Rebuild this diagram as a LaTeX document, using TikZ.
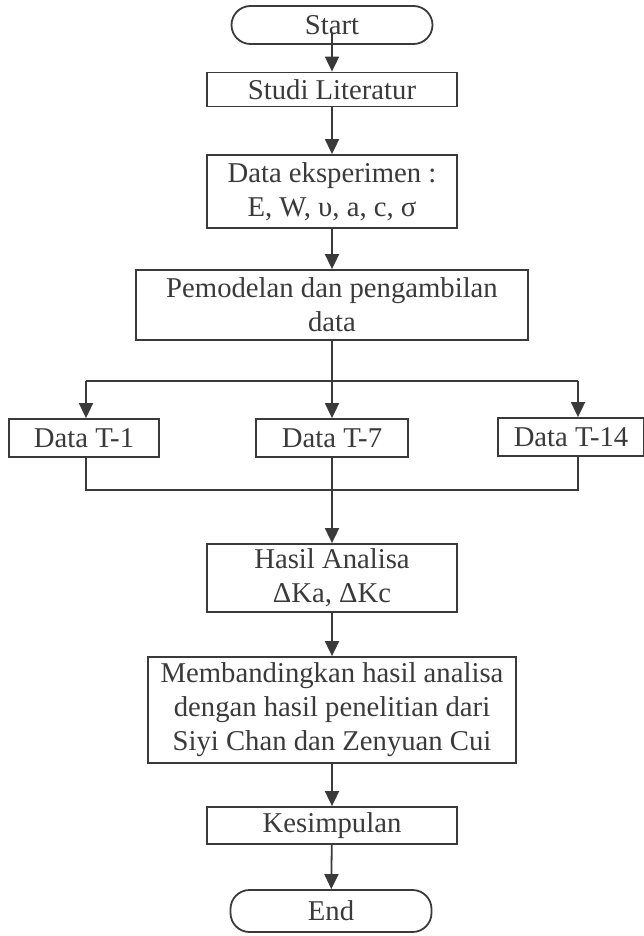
\documentclass[tikz,border=0pt]{standalone}
\usepackage{fontspec}
\setmainfont{Liberation Serif}
\usetikzlibrary{arrows.meta}
\definecolor{ink}{RGB}{58,58,58}
\tikzset{
  kotak/.style={draw=ink,line width=1.8pt,text=ink,align=center,inner sep=0pt,
    font=\fontsize{28.7pt}{34pt}\selectfont},
  oval/.style={kotak,rounded corners=19pt},
  garis/.style={draw=ink,line width=1.8pt},
  panah/.style={garis,-{Triangle[length=15pt,width=14pt]}}
}
\begin{document}
\begin{tikzpicture}[x=1pt,y=-1pt]
    \useasboundingbox(0,0)rectangle(644,936);
    \node[oval,minimum width=201pt,minimum height=38pt](start)at(332,25){Start};
    \node[kotak,minimum width=250pt,minimum height=34pt](studi)at(332,89.5){Studi Literatur};
    \node[kotak,minimum width=250pt,minimum height=73pt](eksp)at(332,191.5){Data eksperimen :\\E, W, υ, a, c, σ};
    \node[kotak,minimum width=392pt,minimum height=70pt](model)at(332,305){Pemodelan dan pengambilan\\data};
    \coordinate(cab)at(332,381);
    \coordinate(cabL)at(86,381);
    \coordinate(cabR)at(578,381);
    \node[kotak,minimum width=150pt,minimum height=38pt](t1)at(84,438){Data T-1};
    \node[kotak,minimum width=152pt,minimum height=38pt](t7)at(332,438){Data T-7};
    \node[kotak,minimum width=146pt,minimum height=38pt](t14)at(571,437){Data T-14};
    \coordinate(gab)at(332,490);
    \node[kotak,minimum width=250pt,minimum height=68pt](hasil)at(332,578){Hasil Analisa\\ΔKa, ΔKc};
    \node[kotak,minimum width=368pt,minimum height=106pt](banding)at(332,710){Membandingkan hasil analisa\\dengan hasil penelitian dari\\Siyi Chan dan Zenyuan Cui};
    \node[kotak,minimum width=250pt,minimum height=37pt](simpul)at(332,825.5){Kesimpulan};
    \node[oval,minimum width=201pt,minimum height=42pt](end)at(331,911){End};
    \draw[panah]([yshift=-8pt]start.center)--(studi.north);
    \draw[panah](studi)--(eksp);
    \draw[panah](eksp)--(model);
    \draw[garis](model)--(cab);
    \draw[garis](cabL)--(cabR);
    \draw[panah](cabL)--(cabL|-t1.north);
    \draw[panah](cab)--(t7);
    \draw[panah](cabR)--(cabR|-t14.north);
    \draw[garis](cabL|-t1.south)--(cabL|-gab)--(cabR|-gab)--(cabR|-t14.south);
    \draw[garis](t7)--(gab);
    \draw[panah](gab)--(hasil);
    \draw[panah](hasil)--(banding);
    \draw[panah](banding)--(simpul);
    \draw[panah](simpul)--(end);
\end{tikzpicture}
\end{document}
